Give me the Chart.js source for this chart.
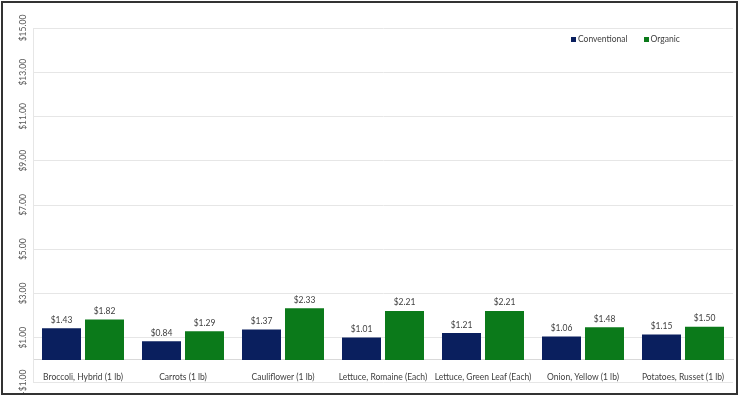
<!DOCTYPE html>
<html>
<head>
<meta charset="utf-8">
<script src="https://cdn.jsdelivr.net/npm/chart.js@4/dist/chart.umd.min.js"></script>
<style>
  body { margin: 0; background: #fff; }
  #wrap { position: relative; width: 742px; height: 399px; }
  #frame { position: absolute; left: 1px; top: 1px; width: 737px; height: 394px;
           box-sizing: border-box; border: 2px solid #333; pointer-events: none; }
  #legend { position: absolute; left: 571px; top: 34px; font: 8.5px Lato, sans-serif; color: #404040; }
  #legend span.item { margin-right: 16px; }
  #legend span.box { display: inline-block; width: 5px; height: 5px; margin-right: 2px; vertical-align: 0px; }
</style>
</head>
<body>
<div id="wrap">
  <canvas id="priceChart"></canvas>
  <div id="legend"></div>
  <div id="frame"></div>
</div>
<script>
var products = ["Broccoli, Hybrid (1 lb)", "Carrots (1 lb)", "Cauliflower (1 lb)", "Lettuce, Romaine (Each)",
                "Lettuce, Green Leaf (Each)", "Onion, Yellow (1 lb)", "Potatoes, Russet (1 lb)"]
var conventional = [1.43, 0.84, 1.37, 1.01, 1.21, 1.06, 1.15]
var organic = [1.82, 1.29, 2.33, 2.21, 2.21, 1.48, 1.50]
var yMin = -1
var yMax = 15
var yStep = 2

function money(v)
{
    return (v < 0 ? "-" : "") + "$" + Math.abs(v).toFixed(2)
}

// value labels over each bar
var barLabels = {
    id: "barLabels",
    afterDatasetsDraw: function (chart)
    {
        var c = chart.ctx
        c.save()
        c.font = "8.5px Lato"
        c.fillStyle = "#404040"
        c.textAlign = "center"
        c.textBaseline = "bottom"
        chart.data.datasets.forEach(function (ds, i)
        {
            chart.getDatasetMeta(i).data.forEach(function (bar, j)
            {
                c.fillText(money(ds.data[j]), bar.x, bar.y - 4)
            })
        })
        c.restore()
    }
}

var ctx = document.getElementById("priceChart").getContext("2d")
var myChart = new Chart(ctx, {
    type: "bar",
    data: {
        labels: products,
        datasets: [
            { label: "Conventional", data: conventional, backgroundColor: "#0a1f5e" },
            { label: "Organic", data: organic, backgroundColor: "#0b7a1a" },
        ],
    },
    options: {
        responsive: true,
        maintainAspectRatio: false,
        animation: false,
        categoryPercentage: 0.86,
        barPercentage: 0.907,
        layout: { padding: { left: 0, right: 9, top: 28, bottom: 17 } },
        scales: {
            x: {
                position: { y: 0 },
                grid: { display: false },
                border: { color: "#d9d9d9" },
                ticks: { color: "#404040", font: { family: "Lato", size: 8.5 }, padding: 4, maxRotation: 0, autoSkip: false },
            },
            y: {
                min: yMin,
                max: yMax,
                grid: { color: "#e6e6e6", drawTicks: false },
                border: { color: "#e6e6e6" },
                ticks: {
                    stepSize: yStep,
                    minRotation: 90,
                    maxRotation: 90,
                    crossAlign: "center",
                    padding: -4,
                    color: "#595959",
                    font: { family: "Lato", size: 8.5 },
                    callback: function (v) { return money(v) },
                },
                afterFit: function (scale) { scale.width = 33 },
            },
        },
        plugins: {
            legend: { display: false },
            tooltip: { enabled: false },
        },
    },
    plugins: [barLabels],
})

var legendHtml = ""
myChart.data.datasets.forEach(function (ds)
{
    legendHtml += '<span class="item"><span class="box" style="background:' + ds.backgroundColor + '"></span>' + ds.label + '</span>'
})
document.getElementById("legend").innerHTML = legendHtml
</script>
</body>
</html>
